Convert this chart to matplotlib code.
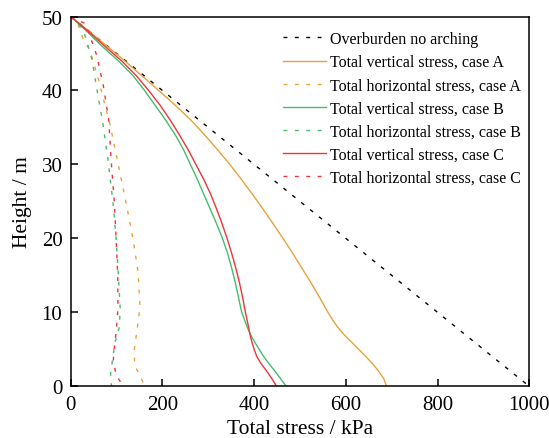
import matplotlib
matplotlib.use("Agg")
import matplotlib.pyplot as plt

# depth profiles (x = stress in kPa, y = height in m)
over_x = [0, 1000]
over_y = [50, 0]

# case A, total vertical stress
va_y = [50, 48, 46, 44, 42, 40, 38, 36, 34, 32, 30, 28, 26, 24, 22, 20, 18, 16,
        14, 12, 10, 9, 8, 7, 6, 5, 4, 3, 2, 1, 0]
va_x = [0, 40, 79, 118, 155, 192, 228, 262, 292, 320, 347, 372, 396, 419, 441, 463, 484, 504,
        524, 543, 561, 571, 582, 596, 612, 628, 644, 659, 672, 683, 689]

# case A, total horizontal stress
ha_y = [50, 49.5, 47, 45.4, 41.6, 35.3, 29, 24.4, 19.9, 15.4, 10.7, 7.3, 4.6, 2.8, 0]
ha_x = [0, 13, 27, 42, 60, 86, 107, 122, 136, 147, 151, 144, 138, 140, 162]

# case B, total vertical stress
vb_y = [50, 48, 46, 44, 42, 40, 38, 36, 34, 32, 30, 28, 26, 24, 22, 20, 18, 16,
        14, 12, 10, 8, 7, 6, 5, 4, 3, 2, 1, 0]
vb_x = [0, 35, 68, 104, 136, 161, 184, 207, 228, 246, 261, 276, 290, 304, 318, 331, 342, 351,
        359, 366, 373, 385, 392, 401, 411, 421, 433, 446, 458, 470]

# case B, total horizontal stress
hb_y = [50, 48.3, 44.3, 40.2, 35.6, 30.7, 25, 20, 15, 10.5, 8, 6, 3.5, 1.8, 0]
hb_x = [0, 27, 46, 57, 70, 81, 92, 99, 104, 108, 106, 97, 91, 87, 89]

# case C, total vertical stress
vc_y = [50, 48, 46, 44, 42, 40, 38, 36, 34, 32, 30, 28, 26, 24, 22, 20, 18, 16,
        14, 12, 10, 8, 7, 6, 5, 4, 3, 2, 1, 0]
vc_x = [0, 38, 74, 111, 143, 170, 195, 217, 237, 256, 273, 290, 305, 318, 330, 341, 351, 360,
        368, 375, 381, 388, 391, 395, 400, 406, 416, 428, 439, 449]

# case C, total horizontal stress
hc_y = [50, 49, 44.7, 40.7, 36, 30.7, 25, 20, 15, 10.5, 7.3, 4.6, 3.5, 1.5, 0]
hc_x = [0, 33, 57, 71, 83, 88, 95, 99, 102.5, 103, 99, 94, 93, 99, 115]

orange = "#e8a23a"
green = "#45bd6c"
red = "#f0333a"

plt.rcParams["font.family"] = "Liberation Serif"
plt.rcParams["xtick.direction"] = "in"
plt.rcParams["ytick.direction"] = "in"

fig = plt.figure(figsize=(5.49, 4.39), dpi=100)
ax = fig.add_axes([0.1288, 0.1178, 0.8352, 0.8423])

lw = 1.0
dash = (0, (2.8, 5.4))
ax.plot(over_x, over_y, color="black", lw=lw, ls=dash, label="Overburden no arching")
ax.plot(va_x, va_y, color=orange, lw=lw, label="Total vertical stress, case A")
ax.plot(ha_x, ha_y, color=orange, lw=lw, ls=dash, label="Total horizontal stress, case A")
ax.plot(vb_x, vb_y, color=green, lw=lw, label="Total vertical stress, case B")
ax.plot(hb_x, hb_y, color=green, lw=lw, ls=dash, label="Total horizontal stress, case B")
ax.plot(vc_x, vc_y, color=red, lw=lw, label="Total vertical stress, case C")
ax.plot(hc_x, hc_y, color=red, lw=lw, ls=dash, label="Total horizontal stress, case C")

ax.set_xlim(0, 1000)
ax.set_ylim(0, 50)
ax.set_xticks([0, 200, 400, 600, 800, 1000])
ax.set_yticks([0, 10, 20, 30, 40, 50])
ax.tick_params(labelsize=15, length=5, width=1.1, pad=6)
for s in ax.spines.values():
    s.set_linewidth(1.1)
ax.set_xlabel("Total stress / kPa", fontsize=15.5, labelpad=4)
ax.set_ylabel("Height / m", fontsize=15.5, labelpad=7)

ax.legend(loc="upper left", bbox_to_anchor=(0.463, 0.961), frameon=False,
          fontsize=11.5, handlelength=2.7, handletextpad=0.25, labelspacing=0.45,
          borderpad=0, borderaxespad=0)

fig.savefig("out.png", dpi=100)
